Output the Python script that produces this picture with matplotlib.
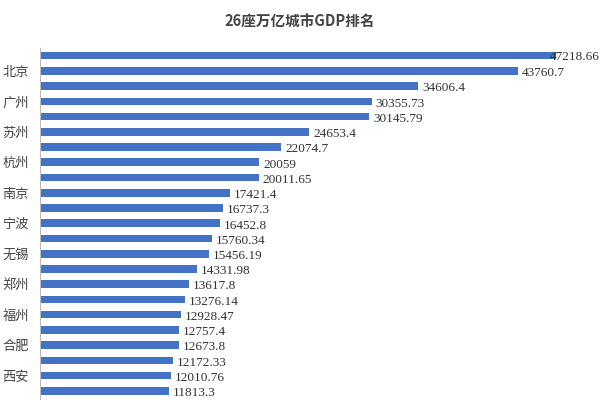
import matplotlib
matplotlib.use("Agg")
import matplotlib.pyplot as plt

plt.rcParams['font.family'] = ['Noto Sans CJK SC', 'DejaVu Sans']

cities = ['上海', '北京', '深圳', '广州', '重庆', '苏州', '成都', '杭州', '武汉', '南京',
          '天津', '宁波', '青岛', '无锡', '长沙', '郑州', '佛山', '福州', '泉州', '合肥',
          '济南', '西安', '南通']
gdp = [47218.66, 43760.7, 34606.4, 30355.73, 30145.79, 24653.4, 22074.7, 20059, 20011.65, 17421.4,
       16737.3, 16452.8, 15760.34, 15456.19, 14331.98, 13617.8, 13276.14, 12928.47, 12757.4, 12673.8,
       12172.33, 12010.76, 11813.3]
labels = [str(v) for v in gdp]

fig = plt.figure(figsize=(6, 4), dpi=100)
ax = fig.add_axes([40 / 600, 0, 560 / 600, 352 / 400])
y = list(range(len(cities)))
ax.barh(y, gdp, height=0.5, color='#4472C4')
xmax = 51235
for yi, v, t in zip(y, gdp, labels):
    if v + 4500 > xmax:
        ax.text(xmax - 50, yi + 0.1, t, va='center', ha='right', fontsize=9.5, color='#333333',
                family=['Liberation Serif', 'DejaVu Serif'])
    else:
        ax.text(v + 350, yi + 0.15, t, va='center', ha='left', fontsize=9.5, color='#333333',
                family=['Liberation Serif', 'DejaVu Serif'])
ax.set_xlim(0, xmax)
ax.set_ylim(22.6, -0.5)
ax.set_yticks(y[1::2])
ax.set_yticklabels(cities[1::2], fontsize=9.5, color='#444444')
ax.tick_params(axis='y', length=0, pad=8)
ax.set_xticks([])
for s in ['top', 'right', 'bottom']:
    ax.spines[s].set_visible(False)
ax.spines['left'].set_color('#bbbbbb')
fig.text(0.5, 0.945, '26座万亿城市GDP排名', ha='center', va='center', fontsize=10.5,
         fontweight='bold', color='#444444')
fig.savefig('out.png', dpi=100)
